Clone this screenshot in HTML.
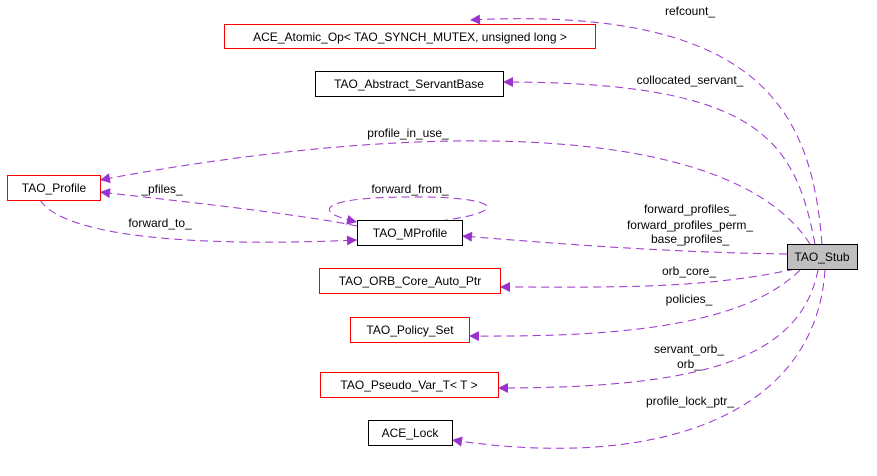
<!DOCTYPE html>
<html><head><style>body{margin:0;background:#fff}svg{display:block}text{font-family:"Liberation Sans",sans-serif;font-size:12px;fill:#000}</style></head><body>
<svg width="877" height="476" viewBox="0 0 877 476" xmlns="http://www.w3.org/2000/svg">
<defs><marker id="a" viewBox="0 0 10 10" refX="10" refY="5" markerWidth="17" markerHeight="10" markerUnits="userSpaceOnUse" orient="auto"><path d="M0,0L10,5L0,10z" fill="#9a32cd"/></marker></defs>
<g fill="none" stroke="#9a32cd" stroke-width="1" stroke-dasharray="8,5" marker-end="url(#a)">
<path d="M822,244 C812,120 770,5 470,20"/>
<path d="M815,244 C795,140 760,82 503,82"/>
<path d="M810,244 C730,120 420,120 100,180"/>
<path d="M787,254 C650,252 540,242 462,236"/>
<path d="M357,226 C300,214 170,200 100,192"/>
<path d="M40,200 C70,245 250,245 357,240"/>
<path d="M440,221 C520,210 490,196 410,197 C320,197 310,212 357,222"/>
<path d="M795,269 C700,290 600,287 500,287"/>
<path d="M800,270 C740,330 600,337 469,336"/>
<path d="M818,270 C800,360 700,388 498,388"/>
<path d="M825,270 C815,420 650,470 452,440"/>
</g>
<g stroke-width="1">
<rect x="224.5" y="24.5" width="371" height="24" fill="#fff" stroke="#f00"/>
<rect x="315.5" y="71.5" width="188" height="25" fill="#fff" stroke="#000"/>
<rect x="7.5" y="175.5" width="93" height="25" fill="#fff" stroke="#f00"/>
<rect x="357.5" y="220.5" width="105" height="25" fill="#fff" stroke="#000"/>
<rect x="787.5" y="244.5" width="70" height="25" fill="#bfbfbf" stroke="#000"/>
<rect x="319.5" y="268.5" width="181" height="25" fill="#fff" stroke="#f00"/>
<rect x="350.5" y="317.5" width="119" height="25" fill="#fff" stroke="#f00"/>
<rect x="320.5" y="372.5" width="178" height="25" fill="#fff" stroke="#f00"/>
<rect x="368.5" y="420.5" width="84" height="25" fill="#fff" stroke="#000"/>
</g>
<g text-anchor="middle">
<text x="410" y="41">ACE_Atomic_Op&lt; TAO_SYNCH_MUTEX, unsigned long &gt;</text>
<text x="409" y="88">TAO_Abstract_ServantBase</text>
<text x="54" y="192">TAO_Profile</text>
<text x="410" y="237">TAO_MProfile</text>
<text x="822" y="261">TAO_Stub</text>
<text x="410" y="285">TAO_ORB_Core_Auto_Ptr</text>
<text x="410" y="334">TAO_Policy_Set</text>
<text x="409" y="389">TAO_Pseudo_Var_T&lt; T &gt;</text>
<text x="410" y="437">ACE_Lock</text>
<text x="690" y="15">refcount_</text>
<text x="690" y="84">collocated_servant_</text>
<text x="408" y="137">profile_in_use_</text>
<text x="162" y="193">_pfiles_</text>
<text x="410" y="193">forward_from_</text>
<text x="160" y="227">forward_to_</text>
<text x="690" y="213">forward_profiles_</text>
<text x="690" y="229">forward_profiles_perm_</text>
<text x="690" y="243">base_profiles_</text>
<text x="689" y="275">orb_core_</text>
<text x="689" y="303">policies_</text>
<text x="689" y="353">servant_orb_</text>
<text x="689" y="368">orb_</text>
<text x="690" y="405">profile_lock_ptr_</text>
</g>
</svg>
</body></html>
